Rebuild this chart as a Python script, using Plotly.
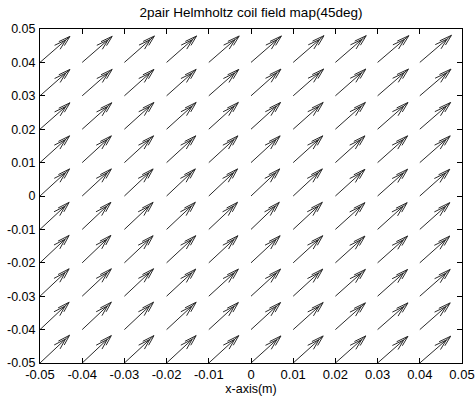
import plotly.graph_objects as go

# Grid positions (m)
x_grid = [-0.05, -0.04, -0.03, -0.02, -0.01, 0.0, 0.01, 0.02, 0.03, 0.04]
y_grid = [-0.05, -0.04, -0.03, -0.02, -0.01, 0.0, 0.01, 0.02, 0.03, 0.04]

# Field components (scaled arrow lengths), rows follow y_grid, columns follow x_grid
u_field = [
    [0.0070, 0.0069, 0.0070, 0.0070, 0.0071, 0.0071, 0.0071, 0.0072, 0.0072, 0.0073],
    [0.0069, 0.0069, 0.0069, 0.0070, 0.0070, 0.0070, 0.0071, 0.0071, 0.0072, 0.0072],
    [0.0069, 0.0069, 0.0069, 0.0069, 0.0070, 0.0070, 0.0070, 0.0071, 0.0071, 0.0072],
    [0.0069, 0.0068, 0.0068, 0.0069, 0.0069, 0.0069, 0.0070, 0.0070, 0.0071, 0.0071],
    [0.0069, 0.0068, 0.0068, 0.0068, 0.0068, 0.0067, 0.0069, 0.0070, 0.0070, 0.0071],
    [0.0070, 0.0069, 0.0068, 0.0068, 0.0068, 0.0068, 0.0069, 0.0070, 0.0071, 0.0071],
    [0.0070, 0.0069, 0.0069, 0.0069, 0.0069, 0.0069, 0.0070, 0.0070, 0.0071, 0.0072],
    [0.0071, 0.0070, 0.0070, 0.0070, 0.0070, 0.0070, 0.0071, 0.0071, 0.0072, 0.0073],
    [0.0071, 0.0071, 0.0070, 0.0070, 0.0071, 0.0071, 0.0072, 0.0072, 0.0073, 0.0074],
    [0.0071, 0.0071, 0.0071, 0.0071, 0.0072, 0.0072, 0.0073, 0.0073, 0.0074, 0.0075],
]
v_field = [
    [0.0083, 0.0082, 0.0082, 0.0082, 0.0082, 0.0081, 0.0081, 0.0081, 0.0080, 0.0080],
    [0.0082, 0.0082, 0.0082, 0.0082, 0.0081, 0.0081, 0.0081, 0.0080, 0.0080, 0.0080],
    [0.0082, 0.0082, 0.0082, 0.0081, 0.0081, 0.0081, 0.0081, 0.0080, 0.0080, 0.0080],
    [0.0082, 0.0082, 0.0081, 0.0081, 0.0081, 0.0081, 0.0081, 0.0080, 0.0080, 0.0080],
    [0.0081, 0.0081, 0.0081, 0.0081, 0.0081, 0.0081, 0.0081, 0.0080, 0.0080, 0.0080],
    [0.0081, 0.0081, 0.0081, 0.0081, 0.0081, 0.0081, 0.0081, 0.0080, 0.0080, 0.0080],
    [0.0080, 0.0080, 0.0080, 0.0080, 0.0080, 0.0080, 0.0080, 0.0080, 0.0080, 0.0080],
    [0.0079, 0.0079, 0.0080, 0.0080, 0.0080, 0.0080, 0.0080, 0.0080, 0.0080, 0.0080],
    [0.0079, 0.0079, 0.0079, 0.0079, 0.0079, 0.0080, 0.0080, 0.0080, 0.0080, 0.0080],
    [0.0078, 0.0078, 0.0079, 0.0079, 0.0079, 0.0079, 0.0080, 0.0080, 0.0080, 0.0081],
]

tick_vals = [-0.05, -0.04, -0.03, -0.02, -0.01, 0.0, 0.01, 0.02, 0.03, 0.04, 0.05]
tick_text = ["-0.05", "-0.04", "-0.03", "-0.02", "-0.01", "0", "0.01", "0.02", "0.03", "0.04", "0.05"]

title_text = "2pair Helmholtz coil field map(45deg)"
xlabel_text = "x-axis(m)"

# MATLAB-style quiver arrowheads (in data units)
alpha = 0.28
beta = 0.30
second_head = 0.86  # a second, inner head drawn along the shaft

xs, ys = [], []
for j, yv in enumerate(y_grid):
    for i, xv in enumerate(x_grid):
        u = u_field[j][i]
        v = v_field[j][i]
        xs += [xv, xv + u, None]
        ys += [yv, yv + v, None]
        for s in (1.0, second_head):
            tx = xv + s * u
            ty = yv + s * v
            xs += [tx - alpha * (u + beta * v), tx, tx - alpha * (u - beta * v), None]
            ys += [ty - alpha * (v - beta * u), ty, ty - alpha * (v + beta * u), None]

fig = go.Figure()
fig.add_trace(go.Scatter(
    x=xs, y=ys, mode="lines",
    line=dict(color="#2a2a2a", width=1),
    hoverinfo="skip", showlegend=False,
))

FONT = "Liberation Sans, Arial, sans-serif"

axis_common = dict(
    range=[-0.05, 0.05],
    tickvals=tick_vals,
    ticktext=tick_text,
    ticks="inside",
    ticklen=5,
    tickcolor="black",
    showline=True,
    linecolor="black",
    linewidth=1,
    mirror="ticks",
    showgrid=False,
    zeroline=False,
    automargin=False,
)

fig.update_layout(
    width=475, height=398,
    margin=dict(l=40, r=13, t=29, b=35),
    paper_bgcolor="white",
    plot_bgcolor="white",
    title=dict(
        text=title_text,
        x=(40 + 462) / 2 / 475, xanchor="center",
        y=1 - 12 / 398, yanchor="middle",
        font=dict(family=FONT, size=13.5, color="black"),
    ),
    xaxis=dict(**axis_common,
               tickfont=dict(family=FONT, size=13, color="black"),
               ticklabelstandoff=-1,
               title=dict(text=xlabel_text, standoff=0,
                          font=dict(family=FONT, size=12.5, color="black"))),
    yaxis=dict(**axis_common,
               tickfont=dict(family=FONT, size=12.5, color="black"),
               ticklabelstandoff=1),
    showlegend=False,
)

fig.write_html(
    "out.html",
    config={"displayModeBar": False, "staticPlot": True},
    post_script="document.body.style.margin='0';document.body.style.overflow='hidden';",
)
